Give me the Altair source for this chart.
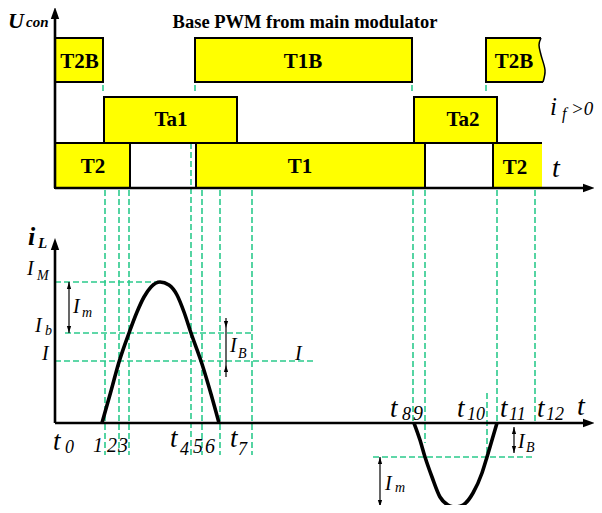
import altair as alt
import pandas as pd

FONT = "Liberation Serif"
GREEN = "#2bca8c"
YELLOW = "#ffff00"

# ---------------- PWM bars (time units / level units) ----------------
bar_names = ["T2B", "T1B", "Ta1", "Ta2", "T2", "T1"]
bar_start = [0.0, 14.0, 4.9, 35.9, 0.0, 14.1]
bar_end   = [4.8, 35.7, 18.2, 44.2, 7.5, 37.0]
bar_low   = [34.1, 34.1, 28.0, 28.0, 23.5, 23.5]
bar_high  = [38.5, 38.5, 32.6, 32.6, 28.0, 28.0]

# open-ended bars on the right
t2b_fill_v     = [34.1, 35.3, 36.8, 37.8, 38.5]
t2b_fill_left  = [43.1, 43.1, 43.1, 43.1, 43.1]
t2b_fill_right = [48.8, 49.0, 48.6, 48.4, 48.6]
t2_open = [43.8, 48.7, 23.5, 28.0]  # start, end, low, high

outline_t = [48.8, 43.1, 43.1, 48.6]
outline_v = [34.1, 34.1, 38.5, 38.5]
t2_outline_t = [43.8, 43.8, 48.7]
t2_outline_v = [23.5, 28.0, 28.0]

bar_label_text = ["T2B", "T1B", "T2B", "Ta1", "Ta2", "T2", "T1", "T2"]
bar_label_t    = [2.45, 24.8, 45.9, 11.6, 40.8, 3.8, 24.5, 46.0]
bar_label_v    = [36.1, 36.1, 36.1, 30.3, 30.3, 25.6, 25.6, 25.5]

# ---------------- dashed guide lines ----------------
vd_t   = [5.0, 6.4, 7.4, 13.6, 14.7, 16.5, 19.7, 35.8, 37.0, 44.2, 48.0, 43.2, 4.8, 14.0, 35.7, 43.1]
vd_top = [23.3, 23.3, 23.3, 28.0, 23.3, 23.3, 23.3, 23.3, 23.3, 23.3, 23.3, 3.0, 33.8, 33.8, 33.8, 33.8]
vd_bot = [-3.2, -3.2, -3.2, -3.2, -3.2, -3.2, -3.2, 0.0, -2.0, 0.0, 0.0, -3.4, 33.0, 33.0, 33.0, 33.0]

hd_t1 = [0.0, 1.0, 0.0, 31.8, 31.8]
hd_t2 = [10.2, 19.7, 25.8, 48.0, 38.8]
hd_v  = [14.1, 9.0, 6.2, -3.4, -8.4]

# ---------------- inductor current i_L ----------------
pos_t = [4.7, 5.6, 6.4, 7.4, 8.2, 8.9, 9.6, 10.5, 11.4, 12.2, 12.9, 13.6, 14.7, 15.6, 16.4]
pos_i = [0.0, 3.2, 6.1, 9.0, 11.1, 12.6, 13.6, 14.1, 13.8, 12.8, 11.1, 9.0, 5.9, 2.9, 0.0]
neg_t = [35.9, 36.5, 37.0, 37.7, 38.5, 39.3, 40.0, 40.8, 41.8, 42.7, 43.2, 43.7, 44.2]
neg_i = [0.0, -1.7, -3.4, -5.4, -7.4, -8.2, -8.4, -8.2, -7.0, -5.0, -3.4, -1.7, 0.0]

# ---------------- axes ----------------
axis_t1 = [0.0, 0.0, 0.0, 0.0]
axis_t2 = [0.0, 53.0, 0.0, 53.0]
axis_v1 = [23.5, 23.5, 0.0, 0.0]
axis_v2 = [40.5, 23.5, 17.5, 0.0]
arrow_up_t = [0.0, 0.0]
arrow_up_v = [41.0, 17.9]
arrow_right_t = [53.4, 53.4]
arrow_right_v = [23.5, 0.0]

# dimension arrows
dim_t   = [1.4, 17.1, 45.9, 32.5]
dim_top = [14.1, 10.5, -0.4, -3.4]
dim_bot = [9.0, 4.6, -3.0, -8.4]
head_up_t = [1.4, 17.1, 45.9, 32.5]
head_up_v = [13.75, 5.45, -0.75, -3.75]
head_dn_t = [1.4, 17.1, 45.9, 32.5]
head_dn_v = [9.35, 9.85, -2.65, -8.05]

# ---------------- texts ----------------
bi_text = ["U", "con", "i", "L"]
bi_t    = [-4.7, -2.9, -2.7, -1.7]
bi_v    = [39.5, 39.6, 17.8, 17.5]
bi_size = [22, 15, 26, 15]

title_text = "Base PWM from main modulator"
title_t, title_v = 25.0, 39.5

it_text = ["i", "f", ">0", "t",
           "I", "M", "I", "m", "I", "b", "I", "I", "B", "I",
           "t", "0", "1", "2", "3", "t", "4", "5", "6", "t", "7",
           "t", "8", "9", "t", "10", "t", "11", "t", "12", "t",
           "I", "B", "I", "m"]
it_t = [49.5, 50.7, 51.6, 49.7,
        -2.8, -1.8, 1.8, 2.7, -2.0, -1.0, -1.3, 17.5, 18.3, 24.0,
        -0.2, 1.0, 3.8, 5.2, 6.3, 11.5, 12.5, 13.8, 15.0, 17.5, 18.3,
        33.5, 34.7, 35.8, 40.2, 41.2, 44.5, 45.4, 48.2, 49.1, 52.2,
        46.3, 47.1, 33.0, 34.0]
it_v = [30.8, 30.4, 30.8, 24.6,
        14.8, 14.3, 11.0, 10.6, 9.1, 8.8, 6.3, 7.1, 6.5, 6.3,
        -2.7, -3.0, -2.9, -2.9, -2.9, -2.4, -3.2, -3.0, -3.0, -2.4, -3.2,
        0.6, 0.3, 0.3, 0.6, 0.3, 0.6, 0.3, 0.6, 0.3, 0.8,
        -2.5, -2.9, -6.7, -6.9]
it_size = [25, 16, 19, 28,
           20, 14, 20, 14, 20, 14, 20, 20, 14, 20,
           27, 18, 20, 20, 20, 27, 18, 20, 20, 27, 18,
           27, 18, 20, 27, 18, 27, 18, 27, 18, 28,
           20, 14, 20, 14]

# ======================================================================
xs = alt.Scale(domain=[-4.7, 53.9], nice=False, zero=False)
ys = alt.Scale(domain=[-8.2, 41.5], nice=False, zero=False)


def X(f):
    return alt.X(f, type="quantitative", scale=xs, axis=None)


def Y(f):
    return alt.Y(f, type="quantitative", scale=ys, axis=None)


bars = pd.DataFrame({"name": bar_names, "t1": bar_start, "t2": bar_end,
                     "v1": bar_low, "v2": bar_high})
open_fill = pd.DataFrame({"v": t2b_fill_v, "a": t2b_fill_left, "b": t2b_fill_right})
t2open = pd.DataFrame({"t1": [t2_open[0]], "t2": [t2_open[1]],
                       "v1": [t2_open[2]], "v2": [t2_open[3]]})
outl = pd.DataFrame({"t": outline_t, "v": outline_v, "k": list(range(len(outline_t)))})
wave = pd.DataFrame({"t": t2b_fill_right, "v": t2b_fill_v, "k": list(range(len(t2b_fill_v)))})
t2outl = pd.DataFrame({"t": t2_outline_t, "v": t2_outline_v, "k": list(range(len(t2_outline_t)))})
blabels = pd.DataFrame({"t": bar_label_t, "v": bar_label_v, "txt": bar_label_text})

vd = pd.DataFrame({"t": vd_t, "v1": vd_top, "v2": vd_bot})
hd = pd.DataFrame({"t1": hd_t1, "t2": hd_t2, "v": hd_v})

curve = pd.DataFrame({
    "t": pos_t + neg_t,
    "i": pos_i + neg_i,
    "seg": ["pos"] * len(pos_t) + ["neg"] * len(neg_t),
})

axes_df = pd.DataFrame({"t1": axis_t1, "t2": axis_t2, "v1": axis_v1, "v2": axis_v2})
aup = pd.DataFrame({"t": arrow_up_t, "v": arrow_up_v})
aright = pd.DataFrame({"t": arrow_right_t, "v": arrow_right_v})
dims = pd.DataFrame({"t": dim_t, "v1": dim_top, "v2": dim_bot})
hup = pd.DataFrame({"t": head_up_t, "v": head_up_v})
hdn = pd.DataFrame({"t": head_dn_t, "v": head_dn_v})

bi = pd.DataFrame({"t": bi_t, "v": bi_v, "txt": bi_text, "s": bi_size})
it = pd.DataFrame({"t": it_t, "v": it_v, "txt": it_text, "s": it_size})
tt = pd.DataFrame({"t": [title_t], "v": [title_v], "txt": [title_text]})

layers = []

# dashed guides
layers.append(alt.Chart(vd).mark_rule(color=GREEN, strokeWidth=1.6, strokeDash=[6, 3])
              .encode(x=X("t"), y=Y("v1"), y2=alt.Y2("v2")))
layers.append(alt.Chart(hd).mark_rule(color=GREEN, strokeWidth=1.6, strokeDash=[6, 3])
              .encode(x=X("t1"), x2=alt.X2("t2"), y=Y("v")))

# bars
layers.append(alt.Chart(bars).mark_rect(color=YELLOW, stroke="black", strokeWidth=2)
              .encode(x=X("t1"), x2=alt.X2("t2"), y=Y("v1"), y2=alt.Y2("v2")))
layers.append(alt.Chart(t2open).mark_rect(color=YELLOW, strokeWidth=0)
              .encode(x=X("t1"), x2=alt.X2("t2"), y=Y("v1"), y2=alt.Y2("v2")))
layers.append(alt.Chart(open_fill).mark_area(orient="horizontal", color=YELLOW, interpolate="monotone")
              .encode(y=Y("v"), x=X("a"), x2=alt.X2("b")))
layers.append(alt.Chart(outl).mark_line(color="black", strokeWidth=2)
              .encode(x=X("t"), y=Y("v"), order="k:Q"))
layers.append(alt.Chart(wave).mark_line(color="black", strokeWidth=1.5, interpolate="cardinal")
              .encode(x=X("t"), y=Y("v"), order="k:Q"))
layers.append(alt.Chart(t2outl).mark_line(color="black", strokeWidth=2)
              .encode(x=X("t"), y=Y("v"), order="k:Q"))
layers.append(alt.Chart(blabels).mark_text(font=FONT, fontWeight="bold", fontSize=21,
                                           align="center", baseline="middle", color="black")
              .encode(x=X("t"), y=Y("v"), text="txt:N"))

# axes
layers.append(alt.Chart(axes_df).mark_rule(color="black", strokeWidth=2.6)
              .encode(x=X("t1"), x2=alt.X2("t2"), y=Y("v1"), y2=alt.Y2("v2")))
layers.append(alt.Chart(aup).mark_point(shape="M0,-1L-0.7,1L0.7,1Z", size=144, filled=True,
                                        color="black", opacity=1)
              .encode(x=X("t"), y=Y("v")))
layers.append(alt.Chart(aright).mark_point(shape="M1,0L-1,-0.7L-1,0.7Z", size=144, filled=True,
                                           color="black", opacity=1)
              .encode(x=X("t"), y=Y("v")))

# current waveform
layers.append(alt.Chart(curve).mark_line(color="black", strokeWidth=3.6, interpolate="monotone")
              .encode(x=X("t"), y=Y("i"), detail="seg:N"))

# dimension arrows
layers.append(alt.Chart(dims).mark_rule(color="black", strokeWidth=1.2)
              .encode(x=X("t"), y=Y("v1"), y2=alt.Y2("v2")))
layers.append(alt.Chart(hup).mark_point(shape="M0,-1L-0.6,1L0.6,1Z", size=49, filled=True,
                                        color="black", opacity=1)
              .encode(x=X("t"), y=Y("v")))
layers.append(alt.Chart(hdn).mark_point(shape="M0,1L-0.6,-1L0.6,-1Z", size=49, filled=True,
                                        color="black", opacity=1)
              .encode(x=X("t"), y=Y("v")))

# texts
layers.append(alt.Chart(tt).mark_text(font=FONT, fontWeight="bold", fontSize=18.5,
                                      align="center", baseline="alphabetic", color="black")
              .encode(x=X("t"), y=Y("v"), text="txt:N"))
layers.append(alt.Chart(bi).mark_text(font=FONT, fontWeight="bold", fontStyle="italic",
                                      align="left", baseline="alphabetic", color="black")
              .encode(x=X("t"), y=Y("v"), text="txt:N", size=alt.Size("s:Q", scale=None)))
layers.append(alt.Chart(it).mark_text(font=FONT, fontStyle="italic",
                                      align="left", baseline="alphabetic", color="black")
              .encode(x=X("t"), y=Y("v"), text="txt:N", size=alt.Size("s:Q", scale=None)))

chart = alt.layer(*layers).properties(
    width=586, height=497, padding=0,
    autosize=alt.AutoSizeParams(type="none"),
    background="white",
).configure_view(stroke=None)

chart.save("out.html", embed_options={"renderer": "svg", "actions": False})
